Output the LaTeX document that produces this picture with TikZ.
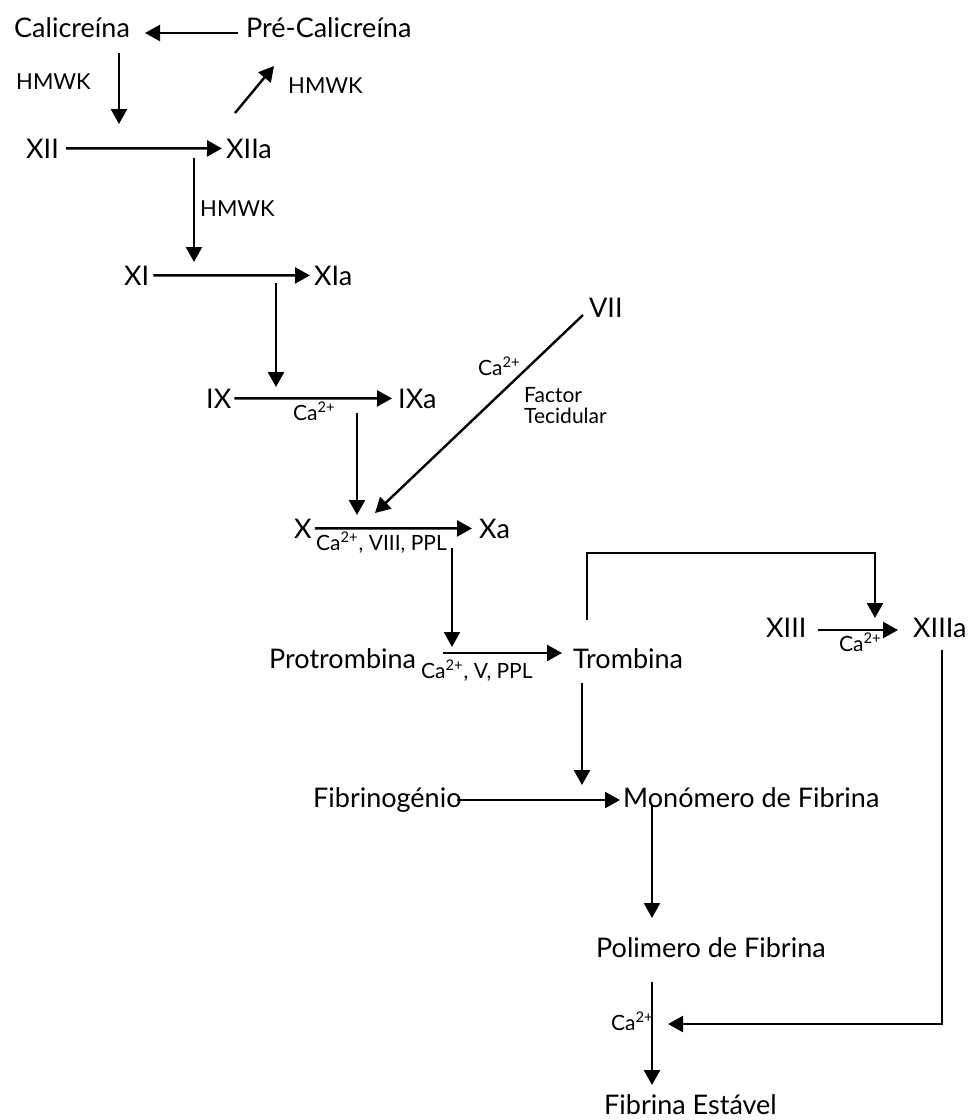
\documentclass[tikz,border=0pt]{standalone}
\usepackage{fontspec}
\setmainfont{Lato}
\usetikzlibrary{arrows.meta}

\newcommand{\caion}{Ca\textsuperscript{2+}}
\tikzset{
  factor/.style={anchor=base west, inner sep=0pt, font=\fontsize{13.5}{15}\selectfont},
  cofactor/.style={anchor=base west, inner sep=0pt, font=\fontsize{11}{13}\selectfont},
  ion/.style={anchor=base west, inner sep=0pt, font=\fontsize{10.5}{10.5}\selectfont},
}

\begin{document}
\begin{tikzpicture}[->, >={Triangle[length=7.5pt, width=8pt]}, x=0.5pt, y=-0.5pt, line width=1.2pt]
  \useasboundingbox (0,0) rectangle (968,1120);
  % factors
  \node[factor] (cal) at (13,37) {Calicreína};
  \node[factor] (precal) at (245,37) {Pré-Calicreína};
  \node[factor] (XII) at (25,158) {XII};
  \node[factor] (XIIa) at (225,158) {XIIa};
  \node[factor] (XI) at (123,285) {XI};
  \node[factor] (XIa) at (313,285) {XIa};
  \node[factor] (IX) at (205,408) {IX};
  \node[factor] (IXa) at (397,408) {IXa};
  \node[factor] (VII) at (588,317) {VII};
  \node[factor] (X) at (293,538) {X};
  \node[factor] (Xa) at (478,538) {Xa};
  \node[factor] (protromb) at (268,668) {Protrombina};
  \node[factor] (tromb) at (572,668) {Trombina};
  \node[factor] (XIII) at (765,637) {XIII};
  \node[factor] (XIIIa) at (912,637) {XIIIa};
  \node[factor] (fibgen) at (312,807) {Fibrinogénio};
  \node[factor] (monom) at (622,807) {Monómero de Fibrina};
  \node[factor] (polim) at (595,957) {Polimero de Fibrina};
  \node[factor] (estavel) at (603,1114) {Fibrina Estável};
  % cofactors
  \node[cofactor] (hmwkA) at (15,89) {HMWK};
  \node[cofactor] (hmwkB) at (287,93) {HMWK};
  \node[cofactor] (hmwkC) at (199,216) {HMWK};
  \node[ion] (caA) at (292,420) {\caion};
  \node[ion] (caB) at (477,375) {\caion};
  \node[ion, align=left] (tecid) at (523,423) {Factor\\Tecidular};
  \node[ion] (caC) at (315,550) {\caion, VIII, PPL};
  \node[ion] (caD) at (420,678) {\caion, V, PPL};
  \node[ion] (caE) at (838,651) {\caion};
  \node[ion] (caF) at (610,1030) {\caion};
  % free ends
  \coordinate (precalout) at (238,33);
  \coordinate (calin) at (145,33);
  \coordinate (calout) at (119,53);
  \coordinate (XIIin) at (119,124);
  \coordinate (XIIaup) at (235,113);
  \coordinate (precalin) at (274,66);
  \coordinate (XIIaout) at (194,158);
  \coordinate (XIin) at (194,262);
  \coordinate (XIaout) at (276,283);
  \coordinate (IXin) at (276,387);
  \coordinate (IXaout) at (357,413);
  \coordinate (Xin) at (357,515);
  \coordinate (VIIout) at (583,315);
  \coordinate (Xin2) at (375,513);
  \coordinate (Xaout) at (452,548);
  \coordinate (protin) at (452,647);
  \coordinate (protout) at (443,653);
  \coordinate (trombin) at (562,653);
  \coordinate (trombup) at (587,620);
  \coordinate (XIIIin) at (875,618);
  \coordinate (XIIIout) at (818,630);
  \coordinate (XIIIain) at (898,630);
  \coordinate (trombdown) at (582,683);
  \coordinate (monomin) at (582,785);
  \coordinate (fibout) at (457,800);
  \coordinate (monomleft) at (620,800);
  \coordinate (monomout) at (652,805);
  \coordinate (polimin) at (652,918);
  \coordinate (polimout) at (652,982);
  \coordinate (estavin) at (652,1085);
  \coordinate (XIIIaout) at (942,650);
  \coordinate (polimca) at (668,1024);
  \path
  (precalout) edge (calin)
  (calout) edge (XIIin)
  (XIIaup) edge (precalin)
  (XII) edge [shorten <=3pt, shorten >=1.5pt] (XIIa)
  (XIIaout) edge (XIin)
  (XI) edge [shorten <=1.5pt, shorten >=1.5pt] (XIa)
  (XIaout) edge (IXin)
  (IX) edge [shorten <=1pt, shorten >=2.5pt] (IXa)
  (IXaout) edge (Xin)
  (VIIout) edge (Xin2)
  (X) edge [shorten <=1pt, shorten >=3pt] (Xa)
  (Xaout) edge (protin)
  (protout) edge (trombin)
  (XIIIout) edge (XIIIain)
  (trombdown) edge (monomin)
  (fibout) edge (monomleft)
  (monomout) edge (polimin)
  (polimout) edge (estavin);
  \draw (trombup) |- (XIIIin |- 0,553) -- (XIIIin);
  \draw (XIIIaout) |- (polimca);
\end{tikzpicture}
\end{document}
